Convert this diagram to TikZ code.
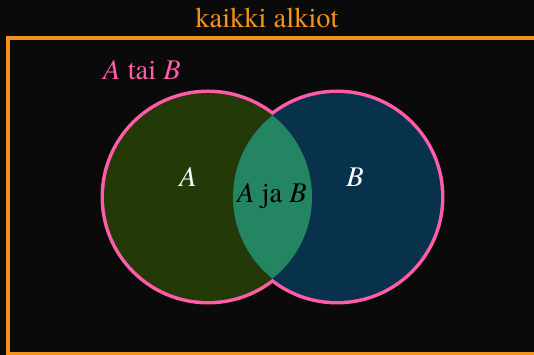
\documentclass[tikz,border=0pt]{standalone}
\usepackage{fontspec}
\setmainfont{texgyretermes}[Extension=.otf, UprightFont=*-regular, ItalicFont=*-italic, BoldFont=*-bold, BoldItalicFont=*-bolditalic]
\usepackage{tikz}
\usetikzlibrary{positioning}
\definecolor{bgdark}{HTML}{0A0A0A}
\definecolor{setorange}{HTML}{F3921A}
\definecolor{rimpink}{HTML}{FF5CA8}
\definecolor{olivefill}{HTML}{233A08}
\definecolor{bluefill}{HTML}{08314B}
\definecolor{lensfill}{HTML}{238562}

\begin{document}
\begin{tikzpicture}[
x=1pt, y=1pt,
every node/.style={font=\fontsize{28.5}{34}\selectfont, inner sep=0, anchor=base},
setlabel/.style={text=white}
]
% Background
\fill[bgdark] (0,0) rectangle (534,355);
\useasboundingbox (0,0) rectangle (534,355);
% Universe
\draw[setorange, line width=4pt] (8,1) rectangle (545,317);
\node[text=setorange] (title) at (267,327) {kaikki alkiot};
% Circles
\coordinate (ca) at (208,158);
\coordinate (cb) at (337,158);
\draw[rimpink, line width=7pt] (ca) circle (104) (cb) circle (104);
\fill[olivefill] (ca) circle (104);
\fill[bluefill] (cb) circle (104);
\begin{scope}
    \clip (ca) circle (104);
    \fill[lensfill] (cb) circle (104);
\end{scope}
% Labels
\node[text=rimpink] (union) at (142,275) {\textit{A} tai \textit{B}};
\node[setlabel] (a) at (188,168) {\textit{A}};
\node[setlabel] (b) at (355,168) {\textit{B}};
\node[text=black] (ab) at (272,152) {\textit{A} ja \textit{B}};
\end{tikzpicture}
\end{document}
